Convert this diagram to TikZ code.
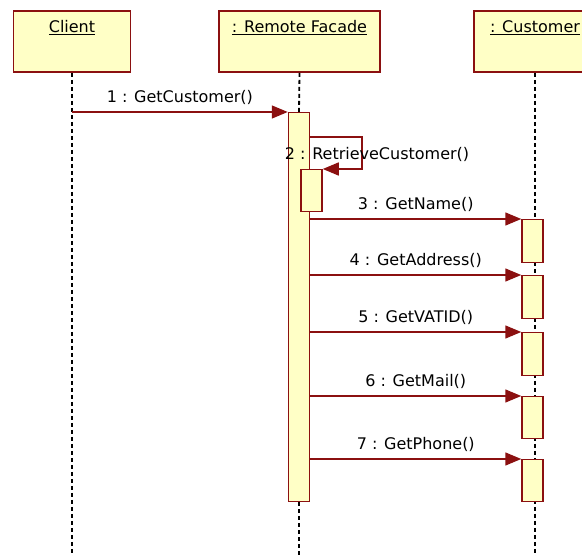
\documentclass[tikz,border=0pt]{standalone}
\usepackage{fontspec}
\setmainfont{DejaVu Sans}
\usepackage{tikz}
\usetikzlibrary{arrows.meta,positioning,calc}
\definecolor{umlfill}{HTML}{FFFFC6}
\definecolor{umlline}{HTML}{8B1010}

\begin{document}
\begin{tikzpicture}[
        x=1pt, y=-1pt,
        every node/.style={font=\fontsize{16}{19}\selectfont},
        objbox/.style={draw=umlline, fill=umlfill, line width=1.6pt,
            minimum width=117pt, minimum height=61pt, inner sep=0pt},
        objname/.style={anchor=base},
        actbar/.style={draw=umlline, fill=umlfill, line width=1.5pt,
            minimum width=21pt, inner sep=0pt, anchor=north},
        lifeline/.style={black, line width=1.8pt, dash pattern=on 4pt off 3pt},
        msg/.style={umlline, line width=1.5pt, -{Triangle[length=16pt,width=13pt]}},
        msglabel/.style={midway, above=3pt, text=black}
    ]
    \useasboundingbox (0,0) rectangle (582,556);
    \clip (0,0) rectangle (582,556);
    \coordinate (bottom) at (0,556);

    % ============ objects ============
    \node[objbox] (client) at (72,41.5) {};
    \node[objbox, minimum width=161pt] (facade) at (299.5,41.5) {};
    \node[objbox, minimum width=122pt] (customer) at (535,41.5) {};
    \node[objname] (clientName) at ([yshift=-22pt]client.north) {\underline{Client}};
    \node[objname] (facadeName) at ([yshift=-22pt]facade.north) {\underline{: Remote Facade}};
    \node[objname] (customerName) at ([yshift=-22pt]customer.north) {\underline{: Customer}};

    % ============ lifelines ============
    \draw[lifeline] (client.south) -- (client.south |- bottom);
    \draw[lifeline] (customer.south) -- (customer.south |- bottom);

    % ============ activations ============
    \node[actbar, minimum height=389pt] (facadeAct) at (299,112) {};
    \node[actbar, minimum height=42pt] (retrieveAct) at (311.5,169) {};
    \draw[lifeline] (facade.south) -- (facadeAct.north);
    \draw[lifeline] (facadeAct.south) -- (facadeAct.south |- bottom);

    % ============ messages ============
    \draw[msg] (client.south |- facadeAct.north) --
    node[msglabel] (msgA) {1 : GetCustomer()} (facadeAct.north west);

    % self call
    \coordinate (selfTurn) at (362,137);
    \draw[msg] (facadeAct.east |- selfTurn) -- (selfTurn) |- (retrieveAct.north east);
    \node (msgB) at (377,154) {2 : RetrieveCustomer()};

    % Customer getters
    \foreach \n/\top/\ht/\txt in {3/219/43/GetName(), 4/275/43/GetAddress(),
            5/332/43/GetVATID(), 6/396/42/GetMail(), 7/459/42/GetPhone()} {
        \node[actbar, minimum height=\ht pt] (act\n) at (532.5,\top) {};
        \draw[msg] (facadeAct.east |- act\n.north) --
        node[msglabel] (msg\n) {\n{} : \txt} (act\n.north west);
    }
\end{tikzpicture}
\end{document}
